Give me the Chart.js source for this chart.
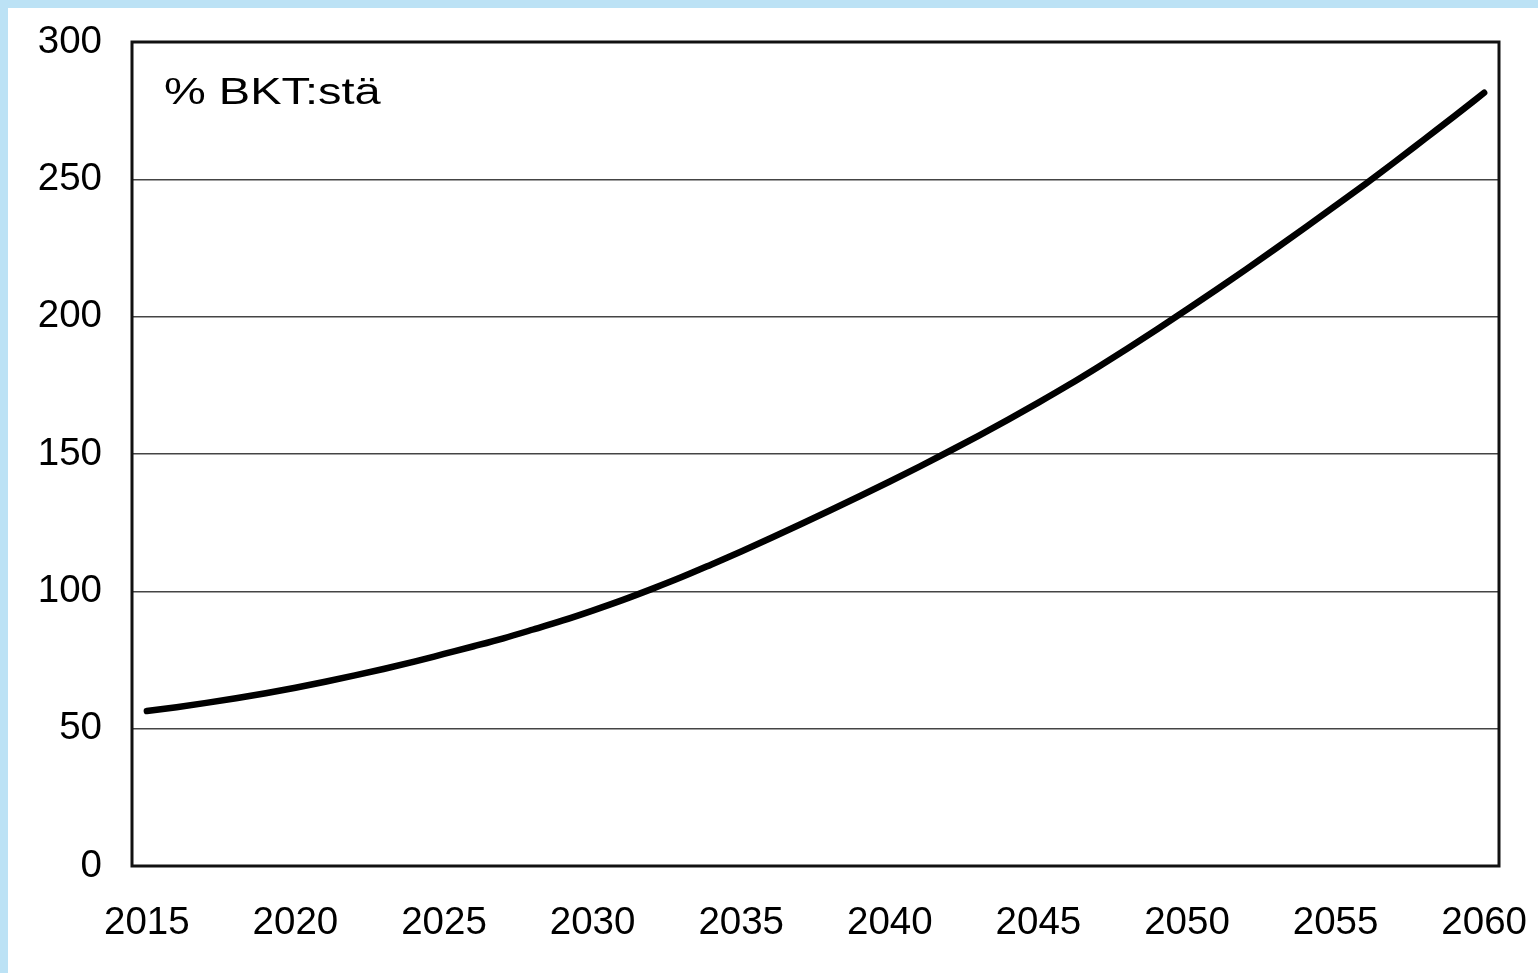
<!DOCTYPE html>
<html lang="fi">
<head>
<meta charset="utf-8">
<title>Velka % BKT:stä</title>
<script src="https://cdn.jsdelivr.net/npm/chart.js@4.4.1/dist/chart.umd.min.js"></script>
<style>
  html, body {
    margin: 0;
    padding: 0;
    width: 1538px;
    height: 973px;
    overflow: hidden;
    background: #bce2f5;
  }
  .sheet {
    position: absolute;
    left: 8px;
    top: 8px;
    width: 1530px;
    height: 965px;
    background: #ffffff;
  }
  .wrap {
    position: absolute;
    left: 0;
    top: 0;
    width: 1538px;
    height: 973px;
  }
  .unit {
    position: absolute;
    left: 164px;
    top: 73px;
    font-family: "Liberation Sans", Arial, sans-serif;
    font-size: 37px;
    line-height: 37px;
    color: #000;
    white-space: nowrap;
    transform: scaleX(1.27);
    transform-origin: 0 0;
  }
</style>
</head>
<body>
<div class="sheet"></div>
<div class="wrap"><canvas id="debtChart" width="1538" height="973"></canvas></div>
<div class="unit">% BKT:stä</div>

<script>
// Vuodet (kategoriat)
const years = [
  2015, 2016, 2017, 2018, 2019, 2020, 2021, 2022, 2023, 2024,
  2025, 2026, 2027, 2028, 2029, 2030, 2031, 2032, 2033, 2034,
  2035, 2036, 2037, 2038, 2039, 2040, 2041, 2042, 2043, 2044,
  2045, 2046, 2047, 2048, 2049, 2050, 2051, 2052, 2053, 2054,
  2055, 2056, 2057, 2058, 2059, 2060
];

// Velka, % BKT:stä (luettu kuvasta)
const debtRatio = [
  56.4, 57.8, 59.4, 61.1, 62.9, 64.9, 67.1, 69.4, 71.8, 74.4,
  77.2, 80.0, 82.9, 86.1, 89.4, 93.0, 96.8, 100.9, 105.2, 109.8,
  114.5, 119.4, 124.4, 129.5, 134.7, 140.0, 145.4, 151.0, 156.7, 162.6,
  168.7, 175.0, 181.6, 188.4, 195.4, 202.6, 209.9, 217.3, 224.9, 232.6,
  240.4, 248.3, 256.4, 264.7, 273.0, 281.5
];

// Akselien merkinnät
const yTickValues = [0, 50, 100, 150, 200, 250, 300];
const xLabelStep = 5;

const labelFont = {
  family: '"Liberation Sans", Arial, sans-serif',
  size: 38.5
};

// Kehys kuvaajan ympärille
const frame = {
  id: 'frame',
  afterDraw(chart) {
    const a = chart.chartArea;
    const ctx = chart.ctx;
    ctx.save();
    ctx.strokeStyle = '#111';
    ctx.lineWidth = 3;
    ctx.strokeRect(a.left, a.top, a.right - a.left, a.bottom - a.top);
    ctx.restore();
  }
};

const ctx = document.getElementById('debtChart').getContext('2d');

new Chart(ctx, {
  type: 'line',
  data: {
    labels: years.map(String),
    datasets: [{
      data: debtRatio,
      borderColor: '#000',
      borderWidth: 6.5,
      borderCapStyle: 'round',
      pointRadius: 0,
      cubicInterpolationMode: 'monotone',
      fill: false
    }]
  },
  options: {
    responsive: false,
    animation: false,
    devicePixelRatio: 1,
    layout: {
      padding: { left: 0, top: 42, right: 39, bottom: 0 }
    },
    plugins: {
      legend: { display: false },
      tooltip: { enabled: false }
    },
    scales: {
      x: {
        type: 'category',
        offset: true,
        grid: { display: false, drawTicks: false },
        border: { display: false },
        ticks: {
          autoSkip: false,
          maxRotation: 0,
          padding: 34,
          color: '#000',
          font: labelFont,
          callback: function(value, index) {
            return years[index] % xLabelStep === 0 ? String(years[index]) : '';
          }
        },
        afterFit: function(scale) {
          scale.height = 107;
          scale.paddingLeft = 0;
          scale.paddingRight = 0;
        }
      },
      y: {
        min: 0,
        max: 300,
        afterBuildTicks: function(scale) {
          scale.ticks = yTickValues.map(v => ({ value: v }));
        },
        grid: {
          color: '#444',
          lineWidth: 1.5,
          drawTicks: false
        },
        border: { display: false },
        ticks: {
          padding: 30,
          color: '#000',
          font: labelFont
        },
        afterFit: function(scale) {
          scale.width = 132;
          scale.paddingTop = 0;
          scale.paddingBottom = 0;
        }
      }
    }
  },
  plugins: [frame]
});
</script>
</body>
</html>
